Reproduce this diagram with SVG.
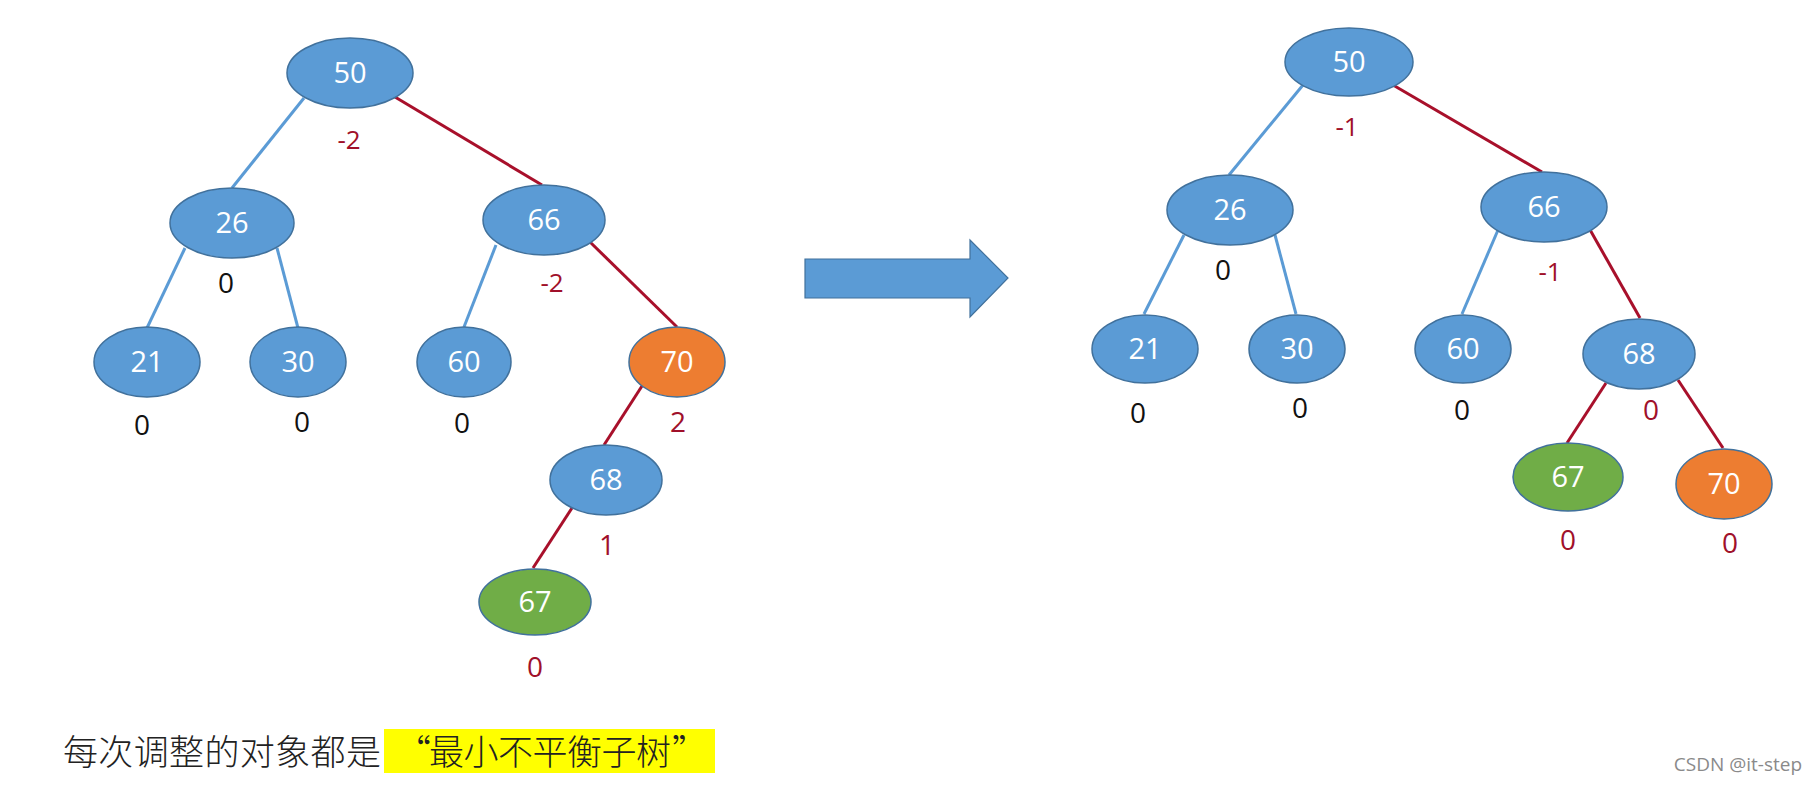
<svg xmlns="http://www.w3.org/2000/svg" width="1817" height="785" viewBox="0 0 1817 785">
<style>
.n{stroke:#41719C;stroke-width:1.5}
.b{fill:#5B9BD5}
.o{fill:#ED7D31}
.g{fill:#70AD47}
.t{font-family:"Open Sans","Liberation Sans",sans-serif;font-size:29px;fill:#ffffff;text-anchor:middle}
.eb{stroke:#5B9BD5;stroke-width:3;fill:none}
.er{stroke:#A8102B;stroke-width:3;fill:none}
.lk{font-family:"Open Sans","Liberation Sans",sans-serif;font-size:28px;fill:#111111;text-anchor:middle}
.lr{font-family:"Open Sans","Liberation Sans",sans-serif;font-size:28px;fill:#A0102A;text-anchor:middle}
.ls{font-size:26px}
.cn{font-family:"Noto Sans CJK SC","Noto Sans",sans-serif;font-size:35px;font-weight:300;fill:#222222}
</style>
<rect width="1817" height="785" fill="#ffffff"/>
<g id="connectors">
  <line class="eb" x1="304" y1="98" x2="232" y2="188"/>
  <line class="er" x1="395" y1="97" x2="542" y2="185"/>
  <line class="eb" x1="185" y1="248" x2="147" y2="328"/>
  <line class="eb" x1="277" y1="248" x2="298" y2="328"/>
  <line class="eb" x1="496" y1="245" x2="464" y2="327"/>
  <line class="er" x1="590" y1="242" x2="677" y2="327"/>
  <line class="er" x1="642" y1="386" x2="604" y2="445"/>
  <line class="er" x1="572" y1="508" x2="533" y2="568"/>
  <line class="eb" x1="1303" y1="85" x2="1229" y2="175"/>
  <line class="er" x1="1393" y1="85" x2="1542" y2="172"/>
  <line class="eb" x1="1184" y1="235" x2="1144" y2="314"/>
  <line class="eb" x1="1275" y1="235" x2="1296" y2="314"/>
  <line class="eb" x1="1498" y1="230" x2="1462" y2="314"/>
  <line class="er" x1="1589" y1="228" x2="1640" y2="318"/>
  <line class="er" x1="1606" y1="383" x2="1567" y2="443"/>
  <line class="er" x1="1678" y1="380" x2="1723" y2="448"/>
</g>
<g id="L50"><ellipse class="n b" cx="350" cy="73" rx="63" ry="35"/><text class="t" x="350" y="83">50</text></g>
<g id="L26"><ellipse class="n b" cx="232" cy="223" rx="62" ry="35"/><text class="t" x="232" y="233">26</text></g>
<g id="L66"><ellipse class="n b" cx="544" cy="220" rx="61" ry="35"/><text class="t" x="544" y="230">66</text></g>
<g id="L21"><ellipse class="n b" cx="147" cy="362" rx="53" ry="35"/><text class="t" x="147" y="372">21</text></g>
<g id="L30"><ellipse class="n b" cx="298" cy="362" rx="48" ry="35"/><text class="t" x="298" y="372">30</text></g>
<g id="L60"><ellipse class="n b" cx="464" cy="362" rx="47" ry="35"/><text class="t" x="464" y="372">60</text></g>
<g id="L70"><ellipse class="n o" cx="677" cy="362" rx="48" ry="35"/><text class="t" x="677" y="372">70</text></g>
<g id="L68"><ellipse class="n b" cx="606" cy="480" rx="56" ry="35"/><text class="t" x="606" y="490">68</text></g>
<g id="L67"><ellipse class="n g" cx="535" cy="602" rx="56" ry="33"/><text class="t" x="535" y="612">67</text></g>
<g id="left-labels">
  <text class="lr ls" x="349" y="149">-2</text>
  <text class="lk" x="226" y="293">0</text>
  <text class="lk" x="142" y="435">0</text>
  <text class="lk" x="302" y="432">0</text>
  <text class="lk" x="462" y="433">0</text>
  <text class="lr ls" x="552" y="292">-2</text>
  <text class="lr" x="678" y="432">2</text>
  <text class="lr" x="607" y="555">1</text>
  <text class="lr" x="535" y="677">0</text>
</g>
<g id="arrow"><polygon points="805,259 970,259 970,240 1008,278 970,317 970,298 805,298" fill="#5B9BD5" stroke="#41719C" stroke-width="1.2"/></g>
<g id="R50"><ellipse class="n b" cx="1349" cy="62" rx="64" ry="34"/><text class="t" x="1349" y="72">50</text></g>
<g id="R26"><ellipse class="n b" cx="1230" cy="210" rx="63" ry="35"/><text class="t" x="1230" y="220">26</text></g>
<g id="R66"><ellipse class="n b" cx="1544" cy="207" rx="63" ry="35"/><text class="t" x="1544" y="217">66</text></g>
<g id="R21"><ellipse class="n b" cx="1145" cy="349" rx="53" ry="34"/><text class="t" x="1145" y="359">21</text></g>
<g id="R30"><ellipse class="n b" cx="1297" cy="349" rx="48" ry="34"/><text class="t" x="1297" y="359">30</text></g>
<g id="R60"><ellipse class="n b" cx="1463" cy="349" rx="48" ry="34"/><text class="t" x="1463" y="359">60</text></g>
<g id="R68"><ellipse class="n b" cx="1639" cy="354" rx="56" ry="35"/><text class="t" x="1639" y="364">68</text></g>
<g id="R67"><ellipse class="n g" cx="1568" cy="477" rx="55" ry="34"/><text class="t" x="1568" y="487">67</text></g>
<g id="R70"><ellipse class="n o" cx="1724" cy="484" rx="48" ry="35"/><text class="t" x="1724" y="494">70</text></g>
<g id="right-labels">
  <text class="lr ls" x="1347" y="136">-1</text>
  <text class="lk" x="1223" y="280">0</text>
  <text class="lr ls" x="1550" y="281">-1</text>
  <text class="lk" x="1138" y="423">0</text>
  <text class="lk" x="1300" y="418">0</text>
  <text class="lk" x="1462" y="420">0</text>
  <text class="lr" x="1651" y="420">0</text>
  <text class="lr" x="1568" y="550">0</text>
  <text class="lr" x="1730" y="553">0</text>
</g>
<g id="caption">
  <rect x="384" y="729" width="331" height="44" fill="#FFFF00"/>
  <text class="cn" y="765"><tspan x="63" textLength="318">每次调整的对象都是</tspan><tspan x="396">“</tspan><tspan x="429" textLength="242">最小不平衡子树</tspan><tspan x="672">”</tspan></text>
</g>
<text x="1802" y="771" font-family="Open Sans, Liberation Sans, sans-serif" font-size="19" fill="#8a8a8a" text-anchor="end">CSDN @it-step</text>
</svg>
